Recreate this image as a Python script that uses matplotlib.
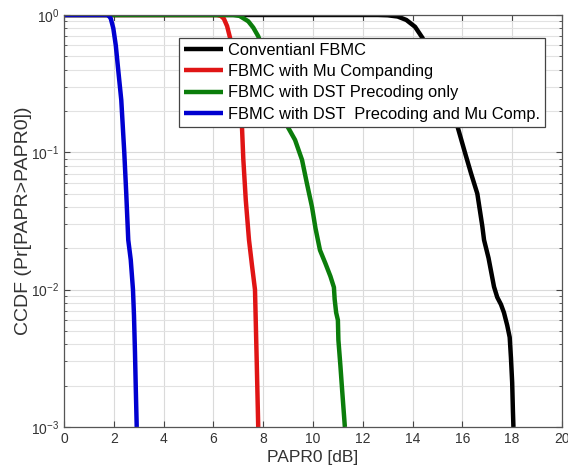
import numpy as np
import matplotlib
matplotlib.use("Agg")
import matplotlib.pyplot as plt

plt.rcParams["font.family"] = ["Liberation Sans", "DejaVu Sans"]
plt.rcParams["mathtext.fontset"] = "custom"
plt.rcParams["mathtext.rm"] = "Liberation Sans"
plt.rcParams["mathtext.default"] = "regular"

# CCDF curves, PAPR0 in dB vs Pr[PAPR > PAPR0]
papr_conv = [0, 12.6, 13.0, 13.4, 13.75, 14.1, 14.4, 14.8, 15.2, 15.5, 15.8, 16.1, 16.35, 16.6,
             16.8, 16.87, 17.05, 17.27, 17.4, 17.55, 17.67, 17.8, 17.9, 17.95, 18.0, 18.03, 18.05]
ccdf_conv = [1, 1, 0.995, 0.975, 0.92, 0.82, 0.68, 0.46, 0.30, 0.21, 0.155, 0.1, 0.07, 0.05,
             0.029, 0.023, 0.017, 0.0105, 0.0088, 0.0078, 0.0068, 0.0055, 0.0045, 0.0032, 0.0021, 0.0013, 0.001]

papr_mu = [0, 6.15, 6.3, 6.42, 6.55, 6.67, 6.8, 6.95, 7.05, 7.15, 7.2, 7.3, 7.43, 7.55, 7.67, 7.7, 7.74, 7.8]
ccdf_mu = [1, 1, 0.985, 0.94, 0.83, 0.68, 0.5, 0.3, 0.21, 0.15, 0.09, 0.045, 0.023, 0.015, 0.01, 0.006, 0.003, 0.001]

papr_dst = [0, 6.8, 7.05, 7.4, 7.6, 7.8, 8.0, 8.2, 8.5, 8.75, 8.97, 9.28, 9.56, 9.75, 9.96, 10.1, 10.28,
            10.5, 10.7, 10.84, 10.87, 10.93, 11.0, 11.02, 11.1, 11.17, 11.28]
ccdf_dst = [1, 1, 0.985, 0.9, 0.81, 0.7, 0.56, 0.44, 0.29, 0.21, 0.155, 0.123, 0.088, 0.06, 0.04, 0.028, 0.0194,
            0.0155, 0.0125, 0.0104, 0.0085, 0.0068, 0.006, 0.0043, 0.0028, 0.00186, 0.001]

papr_dst_mu = [0, 1.72, 1.8, 1.88, 1.98, 2.08, 2.17, 2.3, 2.42, 2.5, 2.58, 2.68, 2.77, 2.81, 2.85, 2.88, 2.92]
ccdf_dst_mu = [1, 1, 0.99, 0.94, 0.8, 0.6, 0.41, 0.24, 0.1, 0.05, 0.023, 0.0165, 0.01, 0.0065, 0.0035, 0.002, 0.001]

labels = ["Conventianl FBMC", "FBMC with Mu Companding",
          "FBMC with DST Precoding only", "FBMC with DST  Precoding and Mu Comp."]

fig = plt.figure(figsize=(5.68, 4.73), dpi=100)
ax = fig.add_axes([0.1127, 0.0973, 0.8767, 0.871])

lw = 3.2
kw = dict(lw=lw, solid_joinstyle="round", solid_capstyle="butt")
ax.semilogy(papr_conv, ccdf_conv, color="k", label=labels[0], **kw)
ax.semilogy(papr_mu, ccdf_mu, color="#e01515", label=labels[1], **kw)
ax.semilogy(papr_dst, ccdf_dst, color="#0b7d0b", label=labels[2], **kw)
ax.semilogy(papr_dst_mu, ccdf_dst_mu, color="#0000d0", label=labels[3], **kw)

ax.set_xlim(0, 20)
ax.set_ylim(1e-3, 1)
ax.set_xticks(np.arange(0, 21, 2))
ax.grid(True, which="major", color="#dadada", lw=0.8)
ax.grid(True, which="minor", axis="y", color="#e2e2e2", lw=0.8)
ax.set_axisbelow(True)
ax.tick_params(which="both", direction="in", top=True, right=True, colors="#444444",
               labelcolor="#333333", labelsize=10)
ax.tick_params(which="major", length=4)
ax.tick_params(which="minor", length=2.5)
for sp in ax.spines.values():
    sp.set_color("#555555")
    sp.set_linewidth(0.9)

ax.set_xlabel("PAPR0 [dB]", fontsize=12.5, color="#333333", labelpad=3)
ax.set_ylabel("CCDF (Pr[PAPR>PAPR0])", fontsize=14, color="#333333", labelpad=-1)

leg = ax.legend(loc="upper right", bbox_to_anchor=(0.966, 0.944), borderaxespad=0,
                fontsize=11.8, handlelength=2.4, handletextpad=0.3, labelspacing=0.38,
                borderpad=0.3, fancybox=False, framealpha=1)
leg.get_frame().set_edgecolor("#444444")
leg.get_frame().set_linewidth(0.9)

fig.savefig("out.png", dpi=100)
